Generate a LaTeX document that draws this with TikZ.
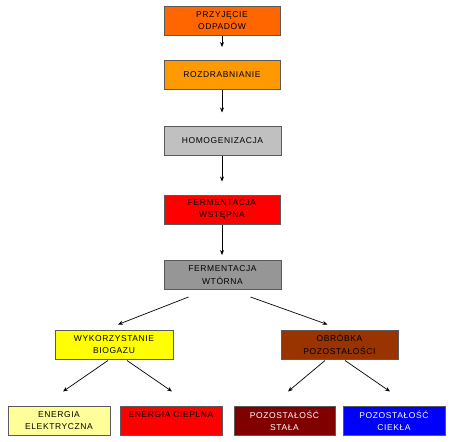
\documentclass[tikz,border=0pt]{standalone}
\usepackage{xcolor}
\usepackage{fontspec}
\setmainfont[LetterSpace=7]{Liberation Sans}
\usetikzlibrary{arrows.meta}
\definecolor{odpOrange}{HTML}{FF6600}
\definecolor{rozOrange}{HTML}{FF9900}
\definecolor{homGray}{HTML}{C0C0C0}
\definecolor{ferRed}{HTML}{FF0000}
\definecolor{wtoGray}{HTML}{969696}
\definecolor{bioYellow}{HTML}{FFFF00}
\definecolor{obrBrown}{HTML}{993300}
\definecolor{eleYellow}{HTML}{FFFF99}
\definecolor{staRed}{HTML}{800000}
\definecolor{cieBlue}{HTML}{0000FF}
\definecolor{edgeGray}{HTML}{5A5A5A}

\begin{document}
\begin{tikzpicture}[x=1pt,y=-1pt,
  box/.style={draw=edgeGray,line width=1pt,rectangle,minimum height=29pt,
    inner sep=1pt,align=center,font=\fontsize{8.5}{12.5}\selectfont},
  arr/.style={-{Stealth[length=5pt,width=4pt]},line width=0.7pt}]
  \useasboundingbox (0,0) rectangle (451,442);
  % main line
  \node[box,fill=odpOrange,minimum width=116pt] (odp) at (222,20.5) {PRZYJĘCIE\\ODPADÓW};
  \node[box,fill=rozOrange,minimum width=116pt] (roz) at (222,75) {ROZDRABNIANIE};
  \node[box,fill=homGray,minimum width=117pt] (hom) at (222.5,140.5) {HOMOGENIZACJA};
  \node[box,fill=ferRed,minimum width=116pt] (fer1) at (222,209.5) {FERMENTACJA\\WSTĘPNA};
  \node[box,fill=wtoGray,minimum width=117pt] (fer2) at (222.5,275) {FERMENTACJA\\WTÓRNA};
  % second level
  \node[box,fill=bioYellow,minimum width=118pt] (bio) at (114,344.5) {WYKORZYSTANIE\\BIOGAZU};
  \node[box,fill=obrBrown,minimum width=117pt] (obr) at (339.5,344.5) {OBRÓBKA\\POZOSTAŁOŚCI};
  % outputs
  \node[box,fill=eleYellow,minimum width=102pt] (ele) at (59,420.5) {ENERGIA\\ELEKTRYCZNA};
  \node[box,fill=ferRed,minimum width=102pt] (cie) at (171,420.5) {ENERGIA CIEPLNA\\\mbox{}};
  \node[box,fill=staRed,text=white,minimum width=101pt] (sta) at (284.5,420.5) {POZOSTAŁOŚĆ\\STAŁA};
  \node[box,fill=cieBlue,text=white,minimum width=102pt] (ciek) at (394,420.5) {POZOSTAŁOŚĆ\\CIEKŁA};

  \draw[arr,shorten >=13pt] (odp) -- (roz);
  \draw[arr,shorten >=13pt] (roz) -- (hom.north -| roz);
  \draw[arr,shorten >=13pt] (hom.south -| fer1) -- (fer1);
  \draw[arr,shorten >=5pt] (fer1) -- (fer2.north -| fer1);
  \draw[arr] ([xshift=-34pt,yshift=-7pt]fer2.south) -- ([xshift=4pt,yshift=5pt]bio.north);
  \draw[arr] ([xshift=28pt,yshift=-7pt]fer2.south) -- ([xshift=-12pt,yshift=5pt]obr.north);
  \draw[arr] ([xshift=-6pt,yshift=-1pt]bio.south) -- ([xshift=4pt,yshift=14pt]ele.north);
  \draw[arr] ([xshift=13pt,yshift=-1pt]bio.south) -- ([xshift=1pt,yshift=14pt]cie.north);
  \draw[arr] ([xshift=-14.5pt,yshift=-1pt]obr.south) -- ([xshift=3.5pt,yshift=14pt]sta.north);
  \draw[arr] ([xshift=5.5pt,yshift=-1pt]obr.south) -- ([xshift=-4pt,yshift=14pt]ciek.north);
\end{tikzpicture}
\end{document}
